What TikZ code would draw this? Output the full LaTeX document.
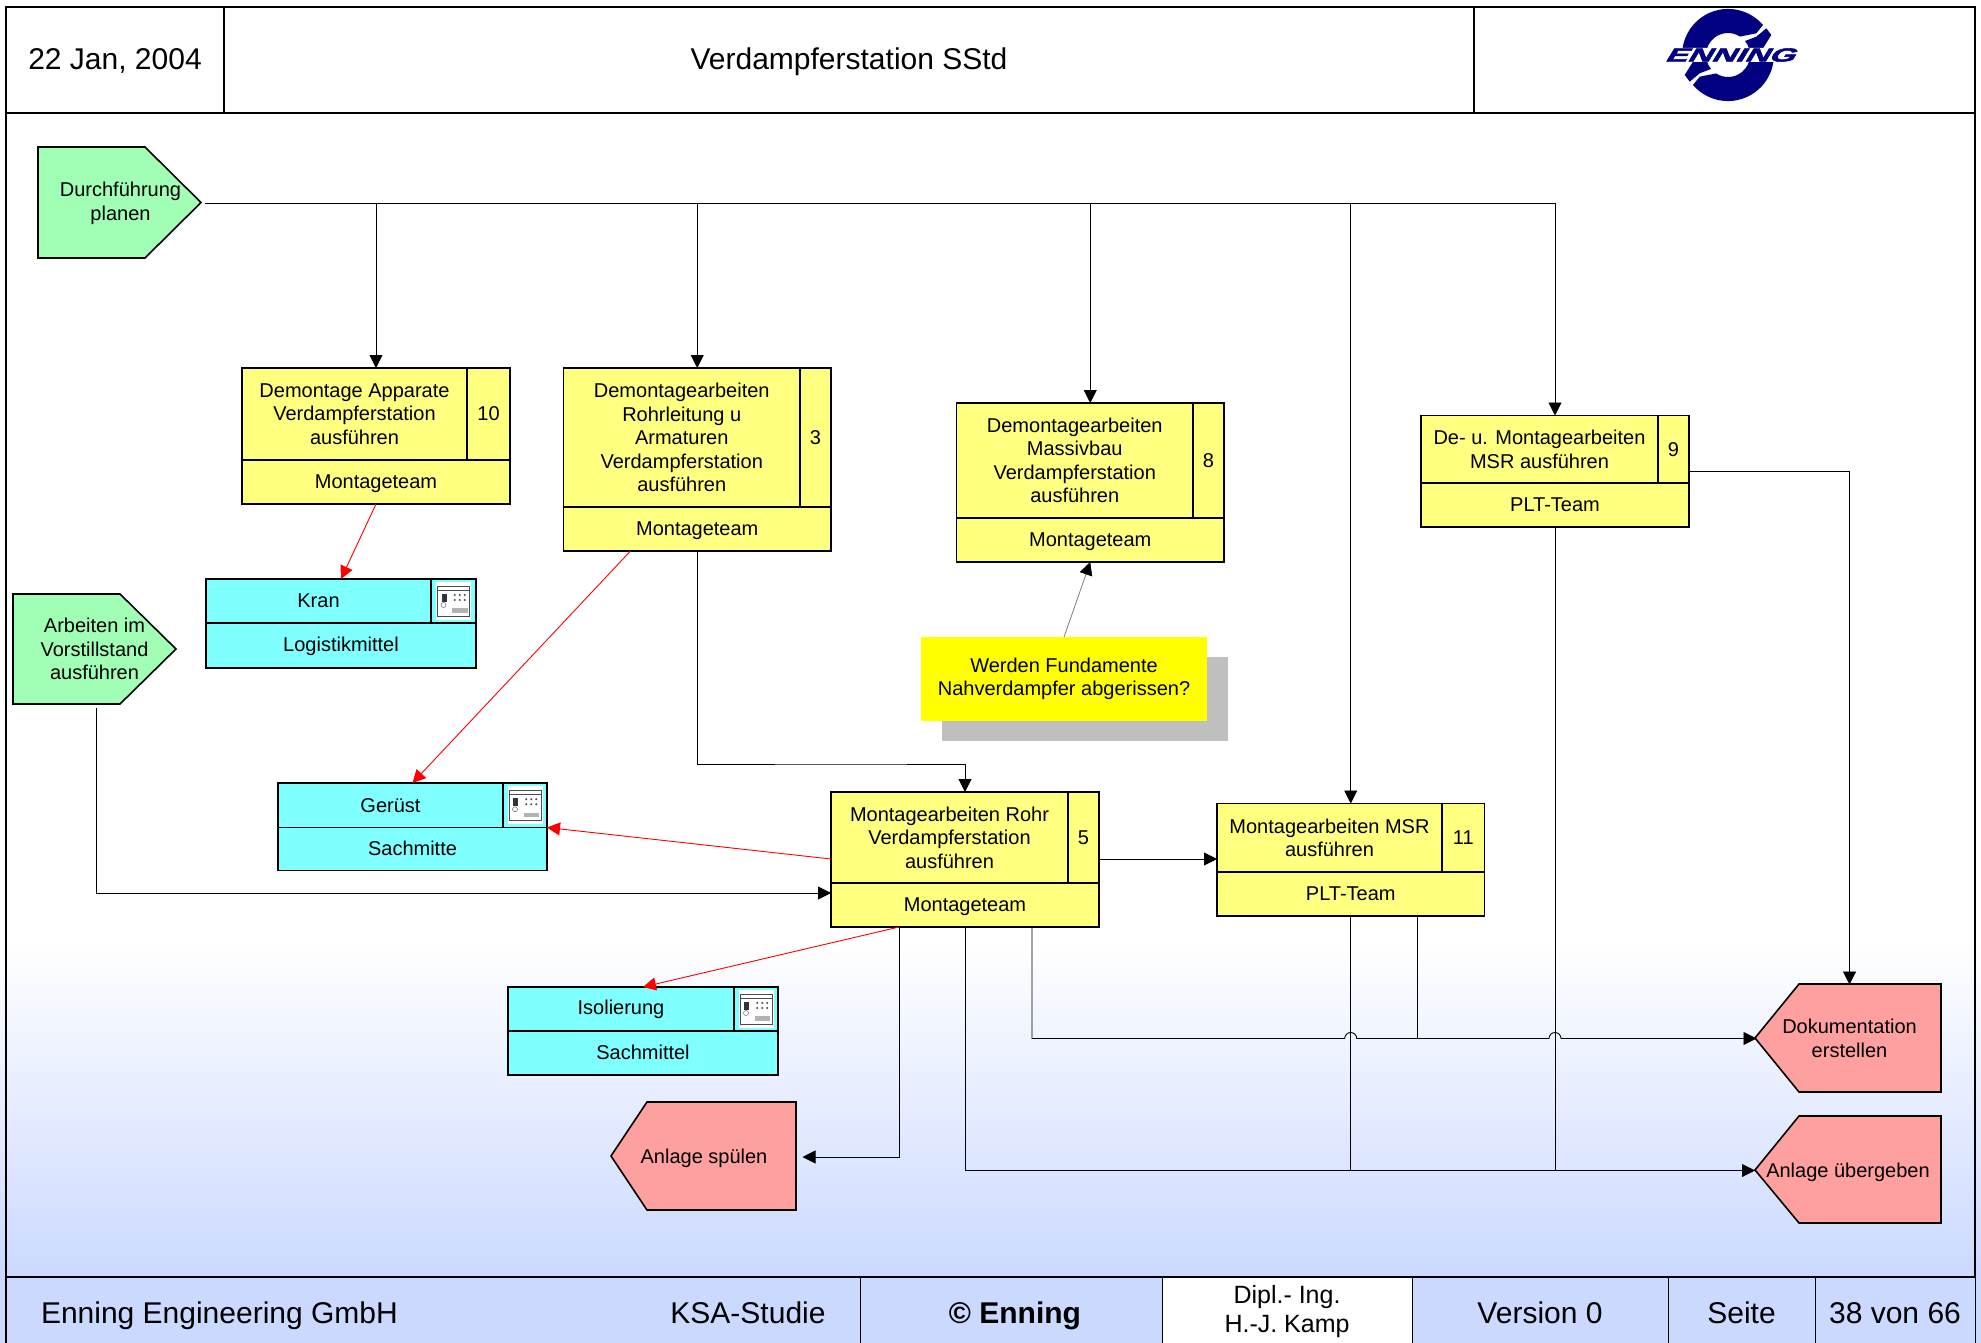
\documentclass[tikz,border=0pt]{standalone}
\usepackage{fontspec}
\setmainfont{Liberation Sans}
\newfontfamily\logofont[UprightFont={* Bold},FakeSlant=0.35,FakeBold=2]{Liberation Sans}
\usetikzlibrary{arrows.meta}
\definecolor{taskyellow}{HTML}{FFFF80}
\definecolor{rescyan}{HTML}{80FFFF}
\definecolor{startgreen}{HTML}{A0FFB4}
\definecolor{endred}{HTML}{FFA0A0}
\definecolor{footblue}{HTML}{CBD9FF}
\definecolor{noteyellow}{HTML}{FFFF00}
\definecolor{enning}{HTML}{000080}
\tikzset{pics/safeicon/.style={code={
	\fill[white] (-17.5,-19) rectangle (17.5,19);
	\draw[black!70,line width=1pt] (-16,-14.5) rectangle (16,15);
	\draw[black!70,line width=1pt] (-16,-10.7) -- (16,-10.7);
	\fill[black!80] (-12,-7) rectangle (-7,0.7);
	\draw[black!70] (-10,4) circle (2.5);
	\foreach \dx in {1.3,6.3,11.3} \foreach \dy in {-6,-1} \fill[black!70] (\dx,\dy) circle (1.1);
	\fill[black!30] (-1.3,7.3) rectangle (14,11.7);
}}}
\begin{document}
\begin{tikzpicture}[x=1pt,y=-1pt]
	\tikzstyle{cell}=[draw,line width=1.6pt,inner sep=0pt,outer sep=0pt,anchor=north west,align=center,font=\fontsize{20}{23.5}\selectfont]
	\tikzstyle{task}=[cell,fill=taskyellow]
	\tikzstyle{taskrole}=[task,text height=14.6pt,text depth=2.5pt]
	\tikzstyle{res}=[cell,fill=rescyan]
	\tikzstyle{resrole}=[res,text height=14.6pt,text depth=2.5pt]
	\tikzstyle{big}=[cell,line width=2pt,font=\fontsize{30}{34}\selectfont,text height=22pt,text depth=3pt]
	\tikzstyle{foot}=[cell,line width=1pt,fill=footblue,font=\fontsize{30}{34}\selectfont]
	\tikzstyle{footline}=[foot,text height=22pt,text depth=0pt]
	\tikzstyle{startsig}=[draw,line width=1.6pt,fill=startgreen]
	\tikzstyle{endsig}=[draw,line width=1.6pt,fill=endred]
	\tikzstyle{sigtext}=[inner sep=0pt,outer sep=0pt,align=center,font=\fontsize{20}{23.5}\selectfont]
	\tikzstyle{sigline}=[sigtext,text height=14.6pt,text depth=1pt]
	\tikzstyle{flow}=[line width=0.9pt,-{Triangle[length=13pt,width=13pt]}]
	\tikzstyle{plain}=[line width=0.9pt]
	\tikzstyle{resflow}=[flow,red]
	\useasboundingbox (0,0) rectangle (1981,1343);
	\fill[white] (0,0) rectangle (1981,1343);
	\shade[top color=white,bottom color=footblue] (0,940) rectangle (1981,1277);
	\fill[footblue] (0,1277) rectangle (1981,1343);
	\draw[line width=2pt] (6,113) -- (6,1343) (1975,113) -- (1975,1343);
	\node[big,minimum width=218pt,minimum height=106pt] (date) at (6,7) {22 Jan, 2004};
	\node[big,minimum width=1250pt,minimum height=106pt] (title) at (224,7) {Verdampferstation SStd};
	\node[big,minimum width=501pt,minimum height=106pt] (logo) at (1474,7) {};
	\foreach \a in {0,180}
		\fill[enning,shift={(1728,55)},rotate=\a] (35,-30) arc (-40.6:-171.7:46) -- (-35,6.7) -- (-43.3,20) -- (-38.3,26.7) -- (-28.3,18.3) -- (-17,14) arc (140.5:303:22) -- (28.3,-21.7) -- cycle;
	\fill[white] (1664,48) -- (1800,48) -- (1794,62) -- (1658,62) -- cycle;
	\node[inner sep=0pt] (logotext) at (1729,55) {\scalebox{1.75}[1]{\fontsize{19}{19}\selectfont\color{enning}\logofont ENNING}};
	\node[foot,minimum width=854pt,minimum height=70pt] (firm) at (6,1277) {};
	\node[footline,draw=none,fill=none,anchor=west] (firmname) at (41,1312) {Enning Engineering GmbH};
	\node[footline,draw=none,fill=none,anchor=center] (study) at (748,1312) {KSA-Studie};
	\node[footline,minimum width=302pt,minimum height=70pt,font=\fontsize{30}{34}\selectfont\bfseries] (copy) at (860,1277) {\hspace*{8pt}© Enning};
	\node[foot,fill=white,minimum width=250pt,minimum height=70pt,font=\fontsize{25}{29}\selectfont] (author) at (1162,1277) {Dipl.- Ing.\\H.-J. Kamp};
	\node[footline,minimum width=256pt,minimum height=70pt] (version) at (1412,1277) {Version 0};
	\node[footline,minimum width=147pt,minimum height=70pt] (page) at (1668,1277) {Seite};
	\node[footline,minimum width=160pt,minimum height=70pt] (pageno) at (1815,1277) {38 von 66};
	\draw[line width=2pt] (firm.north west) -- (pageno.north east);
	\draw[startsig] (38,147) -- (145,147) -- (201,202.5) -- (145,258) -- (38,258) -- cycle;
	\node[sigtext,minimum width=163pt,minimum height=111pt] (plan) at (120.5,203.5) {Durchführung\\planen};
	\draw[startsig] (13,594) -- (120,594) -- (176,649) -- (120,704) -- (13,704) -- cycle;
	\node[sigtext,minimum width=163pt,minimum height=110pt] (arb) at (94.5,649) {Arbeiten im\\Vorstillstand\\ausführen};
	\draw[endsig] (611,1156) -- (647,1102) -- (796,1102) -- (796,1210) -- (647,1210) -- cycle;
	\node[sigline,minimum width=185pt,minimum height=108pt] (spu) at (704,1157) {Anlage spülen};
	\draw[endsig] (1755,1038) -- (1799,984) -- (1941,984) -- (1941,1092) -- (1799,1092) -- cycle;
	\node[sigtext,minimum width=186pt,minimum height=108pt] (dok) at (1849.5,1038.5) {Dokumentation\\erstellen};
	\draw[endsig] (1755,1170) -- (1799,1116) -- (1941,1116) -- (1941,1223) -- (1799,1223) -- cycle;
	\node[sigline,minimum width=186pt,minimum height=107pt] (anl) at (1848,1170.5) {Anlage übergeben};
	\node[task,minimum width=225pt,minimum height=92pt] (t10) at (242,368) {Demontage Apparate\\Verdampferstation\\ausführen};
	\node[task,minimum width=43pt,minimum height=92pt] (t10n) at (467,368) {10};
	\node[taskrole,minimum width=268pt,minimum height=44pt] (t10r) at (242,460) {Montageteam};
	\node[task,minimum width=236.5pt,minimum height=139pt] (t3) at (563.5,368) {Demontagearbeiten\\Rohrleitung u\\Armaturen\\Verdampferstation\\ausführen};
	\node[task,minimum width=31pt,minimum height=139pt] (t3n) at (800,368) {3};
	\node[taskrole,minimum width=267.5pt,minimum height=44pt] (t3r) at (563.5,507) {Montageteam};
	\node[task,minimum width=236.5pt,minimum height=115pt] (t8) at (956.5,403) {Demontagearbeiten\\Massivbau\\Verdampferstation\\ausführen};
	\node[task,minimum width=31pt,minimum height=115pt] (t8n) at (1193,403) {8};
	\node[taskrole,minimum width=267.5pt,minimum height=44pt] (t8r) at (956.5,518) {Montageteam};
	\node[task,minimum width=237pt,minimum height=67.5pt] (t9) at (1421,415.5) {De- u. Montagearbeiten\\MSR ausführen};
	\node[task,minimum width=31pt,minimum height=67.5pt] (t9n) at (1658,415.5) {9};
	\node[taskrole,minimum width=268pt,minimum height=44pt] (t9r) at (1421,483) {PLT-Team};
	\node[task,minimum width=237pt,minimum height=91pt] (t5) at (831,792) {Montagearbeiten Rohr\\Verdampferstation\\ausführen};
	\node[task,minimum width=31pt,minimum height=91pt] (t5n) at (1068,792) {5};
	\node[taskrole,minimum width=268pt,minimum height=44pt] (t5r) at (831,883) {Montageteam};
	\node[task,minimum width=225pt,minimum height=68.5pt] (t11) at (1217,803.5) {Montagearbeiten MSR\\ausführen};
	\node[task,minimum width=42.5pt,minimum height=68.5pt] (t11n) at (1442,803.5) {11};
	\node[taskrole,minimum width=267.5pt,minimum height=44pt] (t11r) at (1217,872) {PLT-Team};
	\node[res,minimum width=225pt,minimum height=44pt] (kran) at (206,579) {Kran};
	\node[res,minimum width=45pt,minimum height=44pt] (krani) at (431,579) {};
	\node[resrole,minimum width=270pt,minimum height=45pt] (kranr) at (206,623) {Logistikmittel};
	\pic at (krani.center) {safeicon};
	\node[res,minimum width=225pt,minimum height=44.5pt] (ger) at (278,783) {Gerüst};
	\node[res,minimum width=44pt,minimum height=44.5pt] (geri) at (503,783) {};
	\node[resrole,minimum width=269pt,minimum height=43pt] (gerr) at (278,827.5) {Sachmitte};
	\pic at (geri.center) {safeicon};
	\node[res,minimum width=226pt,minimum height=44pt] (iso) at (508,987) {Isolierung};
	\node[res,minimum width=44pt,minimum height=44pt] (isoi) at (734,987) {};
	\node[resrole,minimum width=270pt,minimum height=44pt] (isor) at (508,1031) {Sachmittel};
	\pic at (isoi.center) {safeicon};
	\fill[black!25] (942,657) rectangle (1228,741);
	\node[cell,draw=none,fill=noteyellow,minimum width=286pt,minimum height=84pt] (note) at (921,637) {Werden Fundamente\\Nahverdampfer abgerissen?};
	\coordinate (t9out) at (1689,471);
	\coordinate (t5out) at (1099,859);
	\coordinate (t5left) at (831,859);
	\coordinate (t5in) at (831,893);
	\coordinate (t5b) at (899,927);
	\coordinate (t5c) at (1032,927);
	\coordinate (t3b) at (630.5,551);
	\coordinate (t3bend) at (850,764);
	\coordinate (t11b) at (1417,916);
	\coordinate (arbb) at (96,708);
	\coordinate (jumpa) at (1344.7,1038.5);
	\coordinate (jumpb) at (1549,1038.5);
	\draw[flow,shorten <=3pt] (plan.east) -| (t10r |- t10.north);
	\draw[flow,shorten <=3pt] (plan.east) -| (t3r |- t3.north);
	\draw[flow,shorten <=3pt] (plan.east) -| (t8r |- t8.north);
	\draw[flow,shorten <=3pt] (plan.east) -| (t11r |- t11.north);
	\draw[flow,shorten <=3pt] (plan.east) -| (t9r |- t9.north);
	\draw[resflow] (t10r.south) -- (kranr |- kran.north);
	\draw[resflow] (t3b) -- (gerr |- ger.north);
	\draw[resflow] (t5left) -- (gerr.north east);
	\draw[resflow] (t5b) -- (isor |- iso.north);
	\draw[flow] (t3r.south) |- (t3bend) -| (t5r |- t5.north);
	\draw[flow] (arbb) |- (t5in);
	\draw[flow] (t5out) -- (t5out -| t11.west);
	\draw[flow,shorten >=6pt] (t5b) |- (spu.east);
	\draw[flow] (t5r.south) |- (anl.west);
	\draw[plain] (t11r.south) -- (t11r.south |- anl.west);
	\draw[plain] (t9r.south) -- (t9r.south |- anl.west);
	\draw[plain] (t11b) -- (t11b |- dok.west);
	\draw[flow] (t5c) |- (jumpa) arc (180:360:6) -- (jumpb) arc (180:360:6) -- (dok.west);
	\draw[flow] (t9out) -| (dok.north);
	\draw[black!50,line width=0.8pt,-{Triangle[length=13pt,width=13pt,black]}] (1064,637) -- (t8r.south);
\end{tikzpicture}
\end{document}
